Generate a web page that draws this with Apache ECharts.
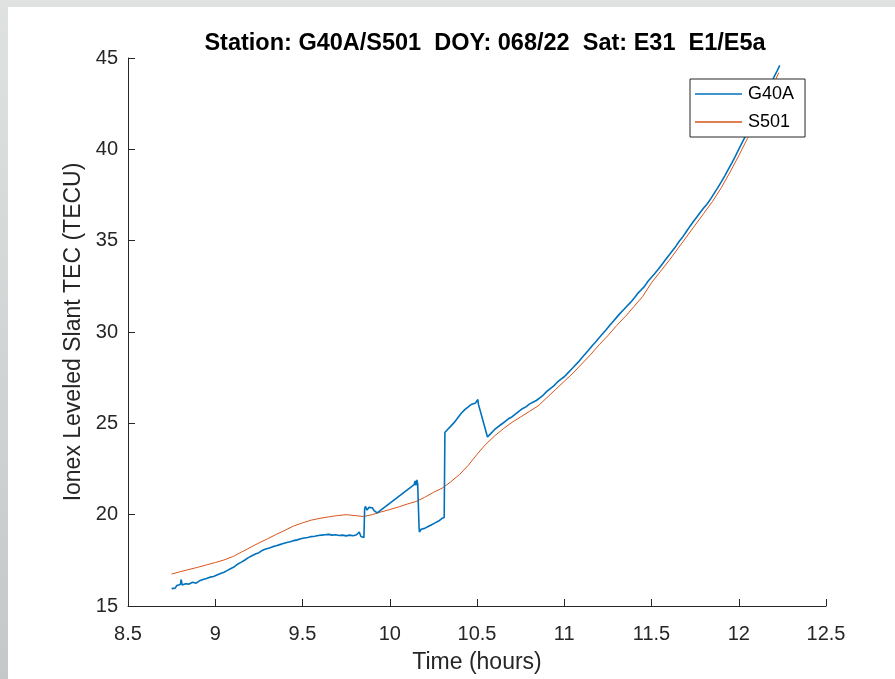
<!DOCTYPE html>
<html>
<head>
<meta charset="utf-8">
<script src="https://cdn.jsdelivr.net/npm/echarts@6/dist/echarts.min.js"></script>
<style>
  html, body { margin: 0; padding: 0; width: 895px; height: 679px; overflow: hidden; }
  body { background: linear-gradient(to bottom, #e0e2e2, #c4c8c8); }
  #chart { position: absolute; left: 8px; top: 7px; width: 887px; height: 672px; background: #ffffff; }
</style>
</head>
<body>
<div id="chart"></div>
<script>
// G40A (blue) - hours / slant TEC
const g40aTime = [
  8.75, 8.76, 8.77, 8.78, 8.79, 8.80, 8.805, 8.81, 8.83, 8.85, 8.87, 8.89, 8.91, 8.93, 8.95, 8.97, 8.99,
  9.01, 9.03, 9.05, 9.07, 9.09, 9.11, 9.13, 9.15, 9.17, 9.19, 9.21, 9.23, 9.25, 9.27, 9.29, 9.31, 9.33,
  9.35, 9.37, 9.39, 9.41, 9.43, 9.45, 9.47, 9.49, 9.51, 9.53, 9.55, 9.57, 9.59, 9.61, 9.63, 9.65, 9.67,
  9.69, 9.71, 9.73, 9.75, 9.77, 9.79, 9.81, 9.825, 9.835, 9.845, 9.852,
  9.856, 9.86, 9.87, 9.88, 9.89, 9.90, 9.91, 9.92, 9.928,
  10.14, 10.145, 10.15, 10.155, 10.16, 10.165,
  10.168, 10.17, 10.18, 10.20, 10.22, 10.24, 10.26, 10.28, 10.30, 10.312,
  10.316, 10.33, 10.35, 10.37, 10.39, 10.41, 10.43, 10.45, 10.47, 10.49, 10.50, 10.505, 10.508,
  10.56, 10.58, 10.60, 10.62, 10.64, 10.66, 10.68, 10.70, 10.72, 10.74, 10.76, 10.78, 10.80, 10.82,
  10.84, 10.86, 10.88, 10.90, 10.92, 10.94, 10.96, 10.98,
  11.00, 11.02, 11.04, 11.06, 11.08, 11.10, 11.12, 11.14, 11.16, 11.18, 11.20, 11.22, 11.24, 11.26,
  11.28, 11.30, 11.32, 11.34, 11.36, 11.38, 11.40, 11.42, 11.44, 11.46, 11.48, 11.50, 11.52, 11.54,
  11.56, 11.58, 11.60, 11.62, 11.64, 11.66, 11.68, 11.70, 11.72, 11.74, 11.76, 11.78, 11.80, 11.82,
  11.84, 11.86, 11.88, 11.90, 11.92, 11.94, 11.96, 11.98, 12.00, 12.02, 12.04, 12.06, 12.08, 12.10,
  12.12, 12.14, 12.16, 12.18, 12.20, 12.22, 12.235
];
const g40aTec = [
  15.95, 16.05, 15.98, 16.12, 16.08, 16.18, 16.45, 16.15, 16.22, 16.20, 16.30, 16.25, 16.38, 16.45, 16.50, 16.58, 16.62,
  16.70, 16.78, 16.85, 16.95, 17.05, 17.15, 17.30, 17.40, 17.52, 17.65, 17.75, 17.85, 17.92, 18.05, 18.12, 18.18, 18.25,
  18.30, 18.36, 18.42, 18.48, 18.52, 18.58, 18.62, 18.68, 18.72, 18.75, 18.80, 18.82, 18.86, 18.88, 18.90, 18.92, 18.88,
  18.90, 18.86, 18.88, 18.84, 18.88, 18.85, 18.90, 19.05, 18.80, 18.72, 18.75,
  20.30, 20.45, 20.25, 20.40, 20.30, 20.38, 20.22, 20.30, 20.10,
  21.65, 21.85, 21.60, 21.90, 21.70, 21.80,
  19.30, 19.05, 19.20, 19.25, 19.35, 19.45, 19.55, 19.65, 19.80, 19.85,
  24.50, 24.65, 24.85, 25.05, 25.30, 25.55, 25.75, 25.90, 26.05, 26.10, 26.20, 26.30, 26.05,
  24.25, 24.45, 24.65, 24.80, 24.95, 25.10, 25.25, 25.35, 25.50, 25.65, 25.80, 25.90, 26.05, 26.15,
  26.25, 26.40, 26.55, 26.75, 26.90, 27.05, 27.25, 27.40,
  27.55, 27.75, 27.95, 28.15, 28.35, 28.58, 28.80, 29.02, 29.25, 29.45, 29.68, 29.90, 30.12, 30.35,
  30.58, 30.80, 31.02, 31.22, 31.42, 31.62, 31.85, 32.10, 32.30, 32.50, 32.78, 33.00, 33.22, 33.45,
  33.70, 33.95, 34.20, 34.45, 34.70, 34.98, 35.22, 35.50, 35.78, 36.05, 36.30, 36.55, 36.80, 37.02,
  37.30, 37.60, 37.90, 38.22, 38.55, 38.90, 39.25, 39.62, 40.00, 40.38, 40.75, 41.12, 41.50, 41.90,
  42.30, 42.70, 43.10, 43.50, 43.92, 44.30, 44.60
];

// S501 (orange)
const s501Time = [
  8.75, 8.80, 8.85, 8.90, 8.95, 9.00, 9.05, 9.10, 9.15, 9.20, 9.25, 9.30, 9.35, 9.40, 9.45, 9.50,
  9.55, 9.60, 9.65, 9.70, 9.75, 9.80, 9.85, 9.90, 9.95, 10.00, 10.05, 10.10, 10.15, 10.20, 10.25,
  10.30, 10.35, 10.40, 10.45, 10.50, 10.55, 10.60, 10.65, 10.70, 10.75, 10.80, 10.85, 10.90, 10.95,
  11.00, 11.05, 11.10, 11.15, 11.20, 11.25, 11.30, 11.35, 11.40, 11.45, 11.50, 11.55, 11.60, 11.65,
  11.70, 11.75, 11.80, 11.85, 11.90, 11.95, 12.00, 12.05, 12.10, 12.15, 12.20, 12.23
];
const s501Tec = [
  16.75, 16.88, 17.00, 17.12, 17.25, 17.38, 17.52, 17.70, 17.95, 18.20, 18.45, 18.68, 18.92, 19.15, 19.38, 19.55,
  19.70, 19.80, 19.88, 19.95, 20.00, 19.95, 19.90, 20.00, 20.15, 20.28, 20.42, 20.58, 20.72, 20.95, 21.22,
  21.45, 21.80, 22.20, 22.70, 23.30, 23.85, 24.30, 24.70, 25.05, 25.35, 25.65, 25.95, 26.40, 26.85,
  27.30, 27.75, 28.25, 28.75, 29.30, 29.80, 30.35, 30.85, 31.40, 31.95, 32.70, 33.30, 33.90, 34.55,
  35.20, 35.85, 36.50, 37.15, 37.90, 38.75, 39.65, 40.60, 41.55, 42.55, 43.60, 44.20
];

const xTicks = { min: 8.5, max: 12.5, interval: 0.5 };
const yTicks = { min: 15, max: 45, interval: 5 };

const g40a = g40aTime.map((t, i) => [t, g40aTec[i]]);
const s501 = s501Time.map((t, i) => [t, s501Tec[i]]);

const chart = echarts.init(document.getElementById('chart'));
const txt = '#262626';
const font = 'Arial, "Liberation Sans", sans-serif';

chart.setOption({
  animation: false,
  textStyle: { fontFamily: font },
  title: {
    text: 'Station: G40A/S501  DOY: 068/22  Sat: E31  E1/E5a',
    left: 472, top: 20, textAlign: 'center',
    textStyle: { fontSize: 23.5, fontWeight: 'bold', color: '#000', fontFamily: font }
  },
  grid: { left: 120, right: 69, top: 51, bottom: 73 },
  legend: {
    orient: 'vertical',
    left: 682, top: 72,
    data: ['G40A', 'S501'],
    icon: 'rect',
    itemWidth: 47, itemHeight: 1.5, itemGap: 10,
    padding: [6, 11, 6, 5],
    backgroundColor: '#fff',
    borderColor: txt, borderWidth: 1, borderRadius: 0,
    textStyle: { fontSize: 18, color: '#000', fontFamily: font, padding: [0, 0, 0, 1] }
  },
  xAxis: {
    type: 'value',
    min: xTicks.min, max: xTicks.max, interval: xTicks.interval,
    name: 'Time (hours)', nameLocation: 'middle', nameGap: 45,
    nameTextStyle: { fontSize: 23, color: txt },
    axisLine: { lineStyle: { color: txt, width: 1 } },
    axisTick: { inside: true, length: 7, lineStyle: { color: txt } },
    axisLabel: { fontSize: 20, color: txt, margin: 18 },
    splitLine: { show: false }
  },
  yAxis: {
    type: 'value',
    min: yTicks.min, max: yTicks.max, interval: yTicks.interval,
    name: 'Ionex Leveled Slant TEC (TECU)', nameLocation: 'middle', nameGap: 41,
    nameTextStyle: { fontSize: 23, color: txt },
    axisLine: { show: true, lineStyle: { color: txt, width: 1 } },
    axisTick: { show: true, inside: true, length: 7, lineStyle: { color: txt } },
    axisLabel: { fontSize: 20, color: txt, margin: 10 },
    splitLine: { show: false }
  },
  series: [
    {
      name: 'G40A', type: 'line', data: g40a,
      symbol: 'none', showSymbol: false,
      lineStyle: { color: '#0072BD', width: 1.6 },
      itemStyle: { color: '#0072BD' },
      z: 3
    },
    {
      name: 'S501', type: 'line', data: s501,
      symbol: 'none', showSymbol: false,
      lineStyle: { color: '#D95319', width: 1 },
      itemStyle: { color: '#D95319' },
      z: 2
    }
  ]
});
</script>
</body>
</html>
